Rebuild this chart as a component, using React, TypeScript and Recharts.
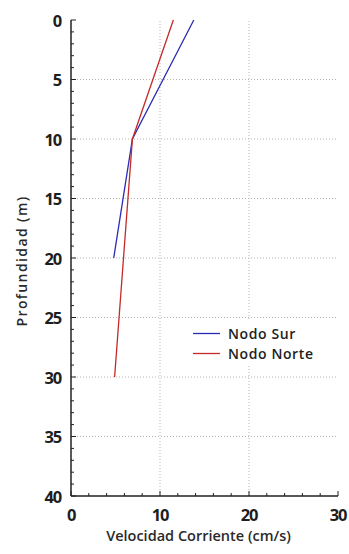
import React from "react";
import { ScatterChart, Scatter, XAxis, YAxis, ReferenceLine, Legend } from "recharts";

// Current velocity profiles: velocity (cm/s) against depth (m)
const nodoSur = [
  { v: 13.8, d: 0 },
  { v: 6.9, d: 10 },
  { v: 4.8, d: 20 },
];
const nodoNorte = [
  { v: 11.5, d: 0 },
  { v: 6.9, d: 10 },
  { v: 4.9, d: 30 },
];

const seriesNames = ["Nodo Sur", "Nodo Norte"];
const seriesColors = ["#2b2bb5", "#c42a2a"];

const xTicks = [0, 2, 4, 6, 8, 10, 12, 14, 16, 18, 20, 22, 24, 26, 28, 30];
const xMajor = [0, 10, 20, 30];
const yTicks = Array.from({ length: 41 }, (_, i) => i);
const yMajor = [0, 5, 10, 15, 20, 25, 30, 35, 40];

const FONT = "'Open Sans', 'DejaVu Sans', sans-serif";
const INK = "#1e1e1e";
const FRAME = "#222";

const isXMajor = (v: number) => xMajor.includes(v);
const isYMajor = (v: number) => yMajor.includes(v);

const BottomTick = (p: any) => {
  const v = p.payload.value;
  const major = isXMajor(v);
  return (
    <g>
      <line x1={p.x} x2={p.x} y1={p.y} y2={p.y - (major ? 5 : 3)} stroke={FRAME} strokeWidth={1} />
      {major && (
        <text x={p.x} y={p.y + 18} textAnchor="middle" dominantBaseline="central" fontFamily={FONT} fontSize={16.5} fontWeight={700} letterSpacing={-1.2} fill={INK}>
          {v}
        </text>
      )}
    </g>
  );
};

const TopTick = (p: any) => {
  const major = isXMajor(p.payload.value);
  return <line x1={p.x} x2={p.x} y1={p.y} y2={p.y + (major ? 5 : 3)} stroke={FRAME} strokeWidth={1} />;
};

const LeftTick = (p: any) => {
  const v = p.payload.value;
  const major = isYMajor(v);
  return (
    <g>
      <line x1={p.x} x2={p.x + (major ? 5 : 3)} y1={p.y} y2={p.y} stroke={FRAME} strokeWidth={1} />
      {major && (
        <text x={p.x - 10} y={p.y} textAnchor="end" dominantBaseline="central" fontFamily={FONT} fontSize={16.5} fontWeight={700} letterSpacing={-1.2} fill={INK}>
          {v}
        </text>
      )}
    </g>
  );
};

const RightTick = (p: any) => {
  const major = isYMajor(p.payload.value);
  return <line x1={p.x} x2={p.x - (major ? 5 : 3)} y1={p.y} y2={p.y} stroke={FRAME} strokeWidth={1} />;
};

const XTitle = (p: any) => {
  const vb = p.viewBox;
  return (
    <text x={vb.x + vb.width / 2 - 6} y={541} textAnchor="middle" fontFamily={FONT} fontSize={14.5} fontWeight={600} fill="#2a2a2a">
      Velocidad Corriente (cm/s)
    </text>
  );
};

const YTitle = (p: any) => {
  const vb = p.viewBox;
  const cy = vb.y + vb.height / 2 + 3;
  return (
    <text x={21} y={cy} transform={`rotate(-90 21 ${cy})`} textAnchor="middle" dominantBaseline="central" fontFamily={FONT} fontSize={14} fontWeight={600} letterSpacing={1.4} fill="#2a2a2a">
      Profundidad (m)
    </text>
  );
};

const LegendBox = () => (
  <div style={{ background: "#fff", padding: "3px 8px 3px 7px", fontFamily: FONT, fontSize: 14, fontWeight: 600, color: INK, letterSpacing: 0.6 }}>
    {seriesNames.map((name, i) => (
      <div key={name} style={{ display: "flex", alignItems: "center", height: 20, whiteSpace: "nowrap" }}>
        <svg width={27} height={3} style={{ marginRight: 8 }}>
          <line x1={0} x2={27} y1={1.5} y2={1.5} stroke={seriesColors[i]} strokeWidth={1.3} />
        </svg>
        {name}
      </div>
    ))}
  </div>
);

const noDot = () => <g />;

export default function App() {
  return (
    <div style={{ position: "absolute", left: 0, top: 0, background: "#fff" }}>
      <ScatterChart width={349} height={554} margin={{ top: 20, right: 11, bottom: 0, left: 0 }}>
        <XAxis
          xAxisId="bottom"
          type="number"
          dataKey="v"
          domain={[0, 30]}
          ticks={xTicks}
          interval={0}
          height={58}
          tickSize={0}
          tickMargin={0}
          tickLine={false}
          tick={BottomTick}
          axisLine={{ stroke: FRAME, strokeWidth: 1.5 }}
          label={{ content: XTitle }}
        />
        <XAxis
          xAxisId="top"
          orientation="top"
          type="number"
          dataKey="v"
          domain={[0, 30]}
          ticks={xTicks}
          interval={0}
          height={0}
          tickSize={0}
          tickMargin={0}
          tickLine={false}
          tick={TopTick}
          axisLine={{ stroke: FRAME, strokeWidth: 1.5 }}
        />
        <YAxis
          yAxisId="left"
          type="number"
          dataKey="d"
          reversed
          domain={[0, 40]}
          ticks={yTicks}
          interval={0}
          width={71}
          tickSize={0}
          tickMargin={0}
          tickLine={false}
          tick={LeftTick}
          axisLine={{ stroke: FRAME, strokeWidth: 1.5 }}
          label={{ content: YTitle }}
        />
        <YAxis
          yAxisId="right"
          orientation="right"
          type="number"
          dataKey="d"
          reversed
          domain={[0, 40]}
          ticks={yTicks}
          interval={0}
          width={0}
          tickSize={0}
          tickMargin={0}
          tickLine={false}
          tick={RightTick}
          axisLine={{ stroke: FRAME, strokeWidth: 1.5 }}
        />
        {xMajor
          .filter((v) => v > 0 && v < 30)
          .map((v) => (
            <ReferenceLine key={`gx${v}`} x={v} xAxisId="bottom" yAxisId="left" stroke="#b4b4b4" strokeWidth={1} strokeDasharray="1 2" />
          ))}
        {yMajor
          .filter((v) => v > 0 && v < 40)
          .map((v) => (
            <ReferenceLine key={`gy${v}`} y={v} xAxisId="bottom" yAxisId="left" stroke="#b4b4b4" strokeWidth={1} strokeDasharray="1 2" />
          ))}
        <Legend
          content={LegendBox}
          layout="horizontal"
          verticalAlign="middle"
          align="center"
          wrapperStyle={{ left: 186, top: 320, width: "auto", height: "auto" }}
        />
        {/* frame partner axes (top / right) share the profile data so they are drawn */}
        <Scatter
          data={nodoNorte}
          xAxisId="top"
          yAxisId="right"
          shape={noDot}
          legendType="none"
          isAnimationActive={false}
        />
        <Scatter
          name={seriesNames[0]}
          data={nodoSur}
          xAxisId="bottom"
          yAxisId="left"
          fill={seriesColors[0]}
          line={{ stroke: seriesColors[0], strokeWidth: 1.3 }}
          shape={noDot}
          isAnimationActive={false}
        />
        <Scatter
          name={seriesNames[1]}
          data={nodoNorte}
          xAxisId="bottom"
          yAxisId="left"
          fill={seriesColors[1]}
          line={{ stroke: seriesColors[1], strokeWidth: 1.3 }}
          shape={noDot}
          isAnimationActive={false}
        />
      </ScatterChart>
    </div>
  );
}
